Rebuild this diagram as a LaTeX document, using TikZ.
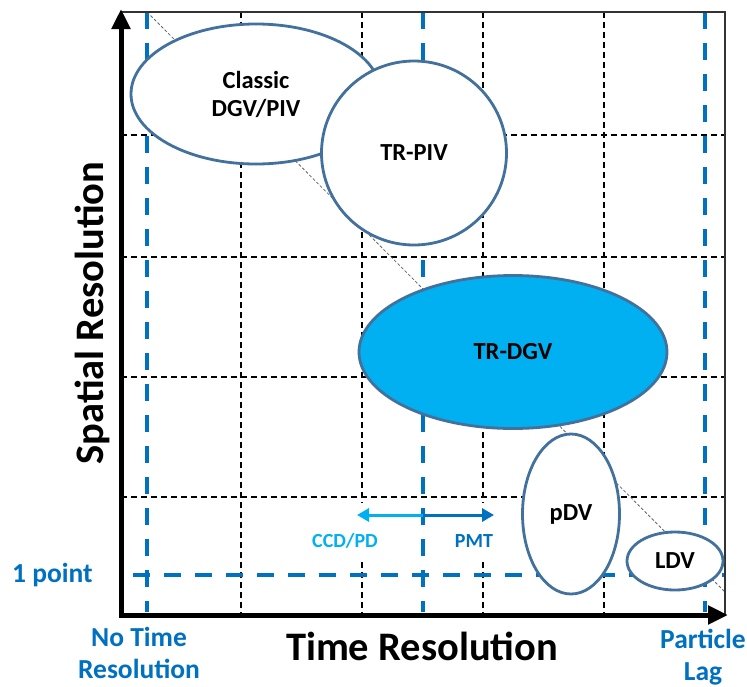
\documentclass[tikz,border=0pt]{standalone}
\usepackage{fontspec}
\setmainfont{Carlito}
\usetikzlibrary{shapes.geometric,arrows.meta}
\definecolor{edgeblue}{HTML}{41719C}
\definecolor{darkblue}{HTML}{0070C0}
\definecolor{lightblue}{HTML}{00B0F0}
\begin{document}
\begin{tikzpicture}[x=1pt,y=-1pt,
  blob/.style={ellipse, draw=edgeblue, line width=2.8pt, fill=white, inner sep=0pt, font=\bfseries\fontsize{24.5}{28}\selectfont, align=center},
  griddash/.style={black, line width=1.2pt, dash pattern=on 6pt off 4pt},
  bluedash/.style={darkblue, line width=3.5pt, dash pattern=on 17pt off 14pt},
  bluelabel/.style={text=darkblue, inner sep=0pt, font=\bfseries\fontsize{27.5}{32}\selectfont, align=center},
  axislabel/.style={inner sep=0pt, font=\bfseries\fontsize{40.5}{48}\selectfont},
  smalllabel/.style={inner sep=0pt, font=\bfseries\fontsize{20}{24}\selectfont}
]
\useasboundingbox (0,0) rectangle (747,686);
% grid
\foreach \gx in {241,362,483,604} \draw[griddash] (\gx,12) -- (\gx,615);
\foreach \gy in {135,257,377,497} \draw[griddash] (121,\gy) -- (725,\gy);
% white box behind the arrow labels
\fill[white] (305,503) rectangle (500,560);
% blue limits
\foreach \bx in {147,423,705} \draw[bluedash] (\bx,12) -- (\bx,612);
\draw[bluedash] (133,575) -- (725,575);
% diagonal
\draw[black!60, line width=0.8pt, dash pattern=on 3pt off 2pt] (147,12) -- (725,592);
% frame
\draw[black!80, line width=1.2pt] (121,12) -- (725,12) -- (725,615);
% ellipses
\node[blob, minimum width=250pt, minimum height=140pt] (classic) at (256,94) {Classic\\DGV/PIV};
\node[blob, minimum width=185pt, minimum height=184pt] (trpiv) at (414,153) {TR-PIV};
\node[blob, fill=lightblue, minimum width=308pt, minimum height=153pt] (trdgv) at (513,352) {TR-DGV};
\node[blob, minimum width=97pt, minimum height=160pt] (pdv) at (571,514) {pDV};
\node[blob, minimum width=96pt, minimum height=58pt] (ldv) at (675,561) {LDV};
% axes
\coordinate (ytip) at (121,9);
\coordinate (O) at (121,615);
\coordinate (xtip) at (728,615);
\draw[line width=5pt, line join=miter, {Triangle[length=20pt,width=18pt]}-{Triangle[length=20pt,width=18pt]}] (ytip) -- (O) -- (xtip);
% double arrow
\coordinate (mid) at (423,515);
\coordinate (lt) at (357,515);
\coordinate (rt) at (494,515);
\draw[lightblue, line width=3pt, -{Triangle[length=12pt,width=13pt]}] (mid) -- (lt);
\draw[darkblue, line width=3pt, -{Triangle[length=12pt,width=13pt]}] (mid) -- (rt);
\node[smalllabel, text=lightblue] (ccd) at (345,541) {CCD/PD};
\node[smalllabel, text=darkblue] (pmt) at (474,541) {PMT};
% axis labels
\node[axislabel, rotate=90] (ylab) at (92,313) {Spatial Resolution};
\node[axislabel] (xlab) at (422,646) {Time Resolution};
% blue labels
\node[bluelabel, anchor=west] (onept) at (12,575) {1 point};
\node[bluelabel] (notime) at (139,653) {No Time\\Resolution};
\node[bluelabel] (plag) at (703,657) {Particle\\Lag};
\end{tikzpicture}
\end{document}
